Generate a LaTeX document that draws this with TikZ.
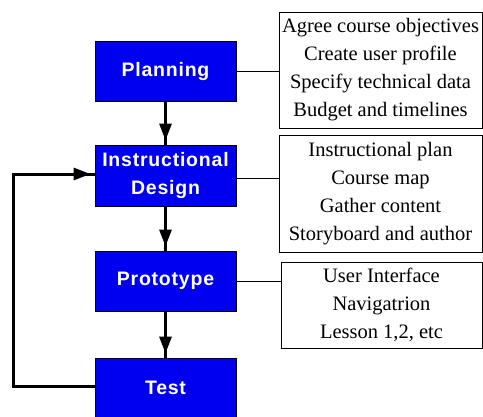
\documentclass[tikz,border=0pt]{standalone}
\usepackage{fontspec}
\setmainfont{Liberation Serif}
\newfontfamily\infofont{Liberation Serif}
\newfontfamily\boxfont[LetterSpace=4]{Liberation Sans}
\usetikzlibrary{arrows.meta,decorations.markings}
\definecolor{stepblue}{RGB}{0,0,240}
\tikzset{
  stage/.style={draw=black, line width=1pt, fill=stepblue, text=white,
    minimum width=141pt, minimum height=60pt, inner sep=0pt, align=center,
    font=\boxfont\bfseries\fontsize{19.5}{26}\selectfont},
  info/.style={draw=black, line width=1pt, fill=white, inner sep=0pt, align=center,
    font=\infofont\fontsize{20.5}{28}\selectfont},
  link/.style={line width=1pt},
  flow/.style={line width=3pt, postaction={decorate},
    decoration={markings, mark=at position -4pt with {\arrow{Triangle[width=12pt,length=17pt]}}}},
}
\begin{document}
\begin{tikzpicture}[x=1pt,y=-1pt]
\useasboundingbox (0,0) rectangle (483,416);
\clip (0,0) rectangle (483,416);
\fill[white] (0,0) rectangle (483,416);

\node[stage] (plan) at (165.5,71) {Planning};
\node[stage, minimum height=61pt] (des) at (165.5,175.5) {Instructional\\[2pt]Design};
\node[stage] (proto) at (165.5,281) {Prototype};
\node[stage] (test) at (165.5,388) {Test};

\node[info, minimum width=203pt, minimum height=116pt] (t1) at (380.5,70)
  {Agree course objectives\\Create user profile\\Specify technical data\\Budget and timelines};
\node[info, minimum width=203pt, minimum height=117pt] (t2) at (380.5,193.5)
  {Instructional plan\\Course map\\Gather content\\Storyboard and author};
\node[info, minimum width=201pt, minimum height=86pt] (t3) at (381.5,305)
  {User Interface\\Navigatrion\\Lesson 1,2, etc};

\draw[link] (plan.east) -- (plan.east -| t1.west);
\draw[link] ([yshift=-2.5pt]des.east) -- ([yshift=-2.5pt]des.east -| t2.west);
\draw[link] (proto.east) -- (proto.east -| t3.west);

\draw[flow] (plan.south) -- (des.north);
\draw[flow] (des.south) -- (proto.north);
\draw[flow] (proto.south) -- (test.north);

\coordinate (fb) at (13,386);
\draw[flow] ([yshift=2pt]test.west) -- ([yshift=2pt]test.west -| fb) |- ([yshift=1.5pt]des.west);
\end{tikzpicture}
\end{document}
